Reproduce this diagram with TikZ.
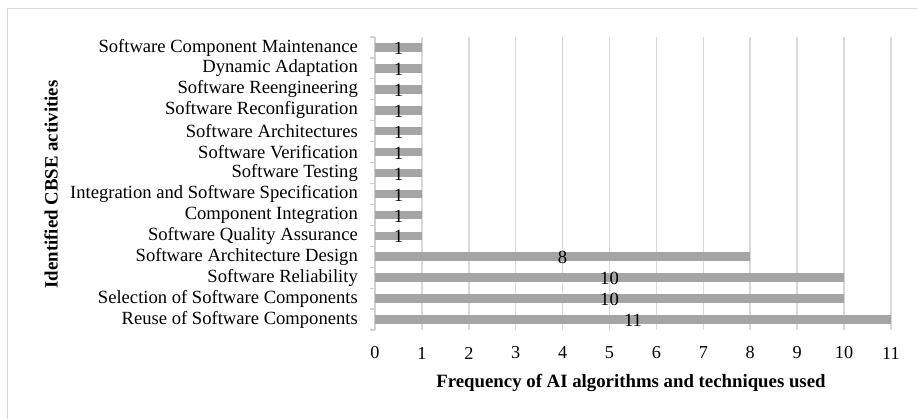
\documentclass[tikz,border=0pt]{standalone}
\usepackage{fontspec}
\setmainfont{Liberation Serif}
\definecolor{barc}{HTML}{A5A5A5}
\definecolor{gridc}{HTML}{D9D9D9}
\definecolor{axisc}{HTML}{D0D0D0}
\definecolor{framec}{HTML}{D9D9D9}
\tikzset{
  catlabel/.style={anchor=east,inner sep=0pt,font=\fontsize{18.6}{19}\selectfont},
  vallabel/.style={inner sep=0pt,font=\fontsize{18.6}{19}\selectfont},
  ticklabel/.style={inner sep=0pt,font=\fontsize{18.2}{19}\selectfont},
  axtitle/.style={inner sep=0pt,font=\bfseries\fontsize{18.8}{19}\selectfont},
  bar/.style={fill=barc,draw=none},
  gridline/.style={draw=gridc,line width=1.5pt},
}
\begin{document}
\begin{tikzpicture}[x=1pt,y=-1pt]
\useasboundingbox (0,0) rectangle (917,418);
\fill[white] (0,0) rectangle (917,418);
\draw[framec,line width=1.2pt] (7.5,430) -- (7.5,8.5) -- (930,8.5);
\def\xo{375}
\def\ux{46.9}
\def\ytop{37}
\def\ybot{330}
\def\band{20.93}
% gridlines
\foreach \k in {1,...,11}{
  \draw[gridline] ({\xo+\k*\ux},\ytop) -- ({\xo+\k*\ux},\ybot);
}
% axis
\draw[axisc,line width=1.2pt] (\xo,\ytop) -- (\xo,\ybot);
\foreach \k in {0,...,14}{
  \draw[axisc,line width=1.2pt] ({\xo-5},{\ytop+\k*\band}) -- (\xo,{\ytop+\k*\band});
}
% bars: index from bottom
\foreach \i/\v/\t in {
  0/11/Reuse of Software Components,
  1/10/Selection of Software Components,
  2/10/Software Reliability,
  3/8/Software Architecture Design,
  4/1/Software Quality Assurance,
  5/1/Component Integration,
  6/1/Integration and Software Specification,
  7/1/Software Testing,
  8/1/Software Verification,
  9/1/Software Architectures,
  10/1/Software Reconfiguration,
  11/1/Software Reengineering,
  12/1/Dynamic Adaptation,
  13/1/Software Component Maintenance}{
  \pgfmathsetmacro{\yc}{\ybot-(\i+0.5)*\band}
  \fill[bar] (\xo,{\yc-4.3}) rectangle ({\xo+\v*\ux},{\yc+4.3});
  \node[catlabel] (cat\i) at (358,\yc) {\t};
  \node[vallabel] (val\i) at ({\xo+\v*\ux/2},{\yc+1}) {\v};
}
% tick labels
\foreach \k in {0,...,11}{
  \node[ticklabel] (tick\k) at ({\xo+\k*\ux},353) {\k};
}
\node[axtitle] (xtitle) at (631,383) {Frequency of AI algorithms and techniques used};
\node[axtitle,rotate=90] (ytitle) at (51,184.5) {Identified CBSE activities};
\end{tikzpicture}
\end{document}
